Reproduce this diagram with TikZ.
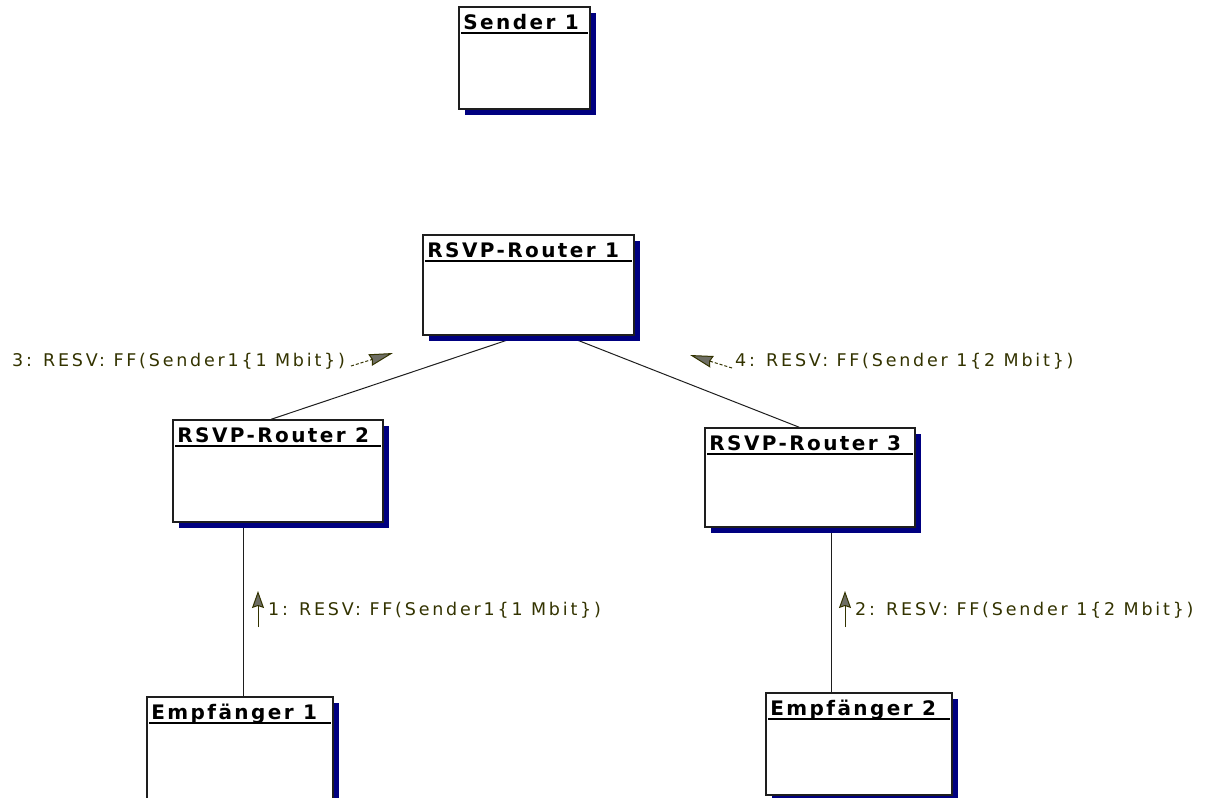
\documentclass[tikz,border=0pt]{standalone}
\usepackage{fontspec}
\usetikzlibrary{arrows.meta,shadows,calc,backgrounds}
\newfontfamily\titlefont{DejaVu Sans}[LetterSpace=12]
\newfontfamily\labelfont{DejaVu Sans}[LetterSpace=16]
\definecolor{shadowblue}{RGB}{0,0,128}
\definecolor{boxline}{RGB}{30,30,30}
\definecolor{labelcol}{RGB}{51,51,0}
\definecolor{arrowgray}{RGB}{110,110,100}
\tikzset{
  obj/.style={draw=boxline, line width=1.5pt, fill=white, inner sep=0pt,
    drop shadow={shadow xshift=6pt, shadow yshift=-6pt, fill=shadowblue, opacity=1}},
  objtitle/.style={font=\titlefont\bfseries\fontsize{20}{22}\selectfont, inner sep=0pt, text=black},
  uline/.style={draw=black, line width=2pt},
  conn/.style={draw=boxline, line width=1pt},
  lbl/.style={font=\labelfont\fontsize{17.5}{20}\selectfont, text=labelcol, inner sep=0pt},
  msg/.style={draw=labelcol, line width=1pt,
    -{Stealth[length=#1,width=12pt,inset=2pt,fill=arrowgray]}},
  msg/.default=22pt,
}
\newcommand{\umlobj}[6]{%
  \node[obj, minimum width=#4pt, minimum height=#5pt] (#1) at (#2,#3) {};
  \node[objtitle, anchor=base west] (#1-t) at ($(#1.north west)+(5,23)$) {#6};
  \draw[uline] ($(#1.north west)+(3,27)$) -- ($(#1.north east)+(-3,27)$);
}
\begin{document}
\begin{tikzpicture}[x=1pt,y=-1pt]
\useasboundingbox (0,0) rectangle (1208,798);
\umlobj{s1}{524.5}{58}{131}{102}{Sender 1}
\umlobj{r1}{528.5}{285}{211}{100}{RSVP-Router 1}
\umlobj{r2}{278}{471}{210}{102}{RSVP-Router 2}
\umlobj{r3}{810}{477.5}{210}{99}{RSVP-Router 3}
\umlobj{e1}{240}{748.5}{186}{103}{Empfänger 1}
\umlobj{e2}{859}{744}{186}{102}{Empfänger 2}
\begin{pgfonlayer}{background}
  \draw[conn] ($(r1.south west)+(98,0)$) -- ($(r2.north west)+(99,0)$);
  \draw[conn] ($(r1.south west)+(144,0)$) -- ($(r3.north west)+(95,0)$);
  \draw[conn] ($(r2.south west)+(71,0)$) -- ($(e1.north west)+(97,0)$);
  \draw[conn] ($(r3.south west)+(127,0)$) -- ($(e2.north west)+(66,0)$);
\end{pgfonlayer}
% messages
\node[lbl, anchor=base west] (l3) at (12,366) {3: RESV: FF(Sender1\{1 Mbit\})};
\coordinate (m3s) at (351,366);
\coordinate (m3e) at (393,353);
\draw[msg=24pt, dash pattern=on 3pt off 2pt] (m3s) -- (m3e);
\node[lbl, anchor=base west] (l4) at (735,366) {4: RESV: FF(Sender 1\{2 Mbit\})};
\coordinate (m4s) at (732,368);
\coordinate (m4e) at (690,355);
\draw[msg=23pt, dash pattern=on 3pt off 2pt] (m4s) -- (m4e);
\node[lbl, anchor=base west] (l1) at (268,615) {1: RESV: FF(Sender1\{1 Mbit\})};
\coordinate (m1s) at (258,627);
\coordinate (m1e) at (258,591);
\draw[msg=17pt] (m1s) -- (m1e);
\node[lbl, anchor=base west] (l2) at (855,615) {2: RESV: FF(Sender 1\{2 Mbit\})};
\coordinate (m2s) at (845,627);
\coordinate (m2e) at (845,591);
\draw[msg=17pt] (m2s) -- (m2e);
\end{tikzpicture}
\end{document}
